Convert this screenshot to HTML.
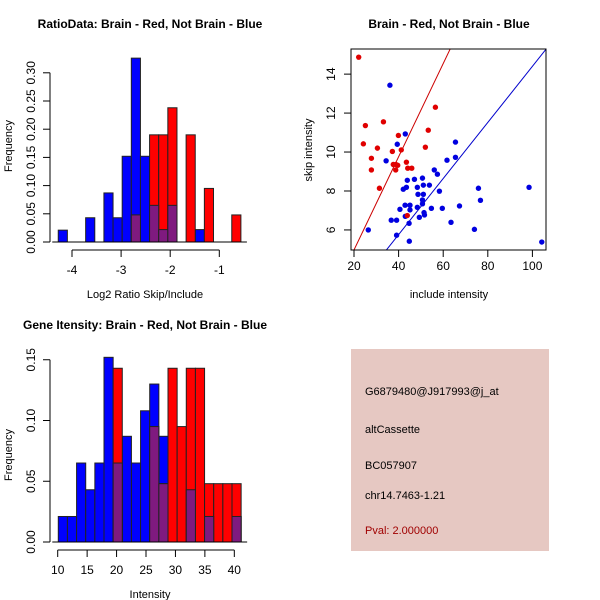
<!DOCTYPE html>
<html><head><meta charset="utf-8"><style>
body{margin:0;background:#fff;}
svg{display:block;font-family:"Liberation Sans",sans-serif;}
</style></head><body>
<svg id="c" width="600" height="600" viewBox="0 0 600 600">
<rect width="600" height="600" fill="#fff"/>
</svg>
<script>
// Histogram 1 (log2 ratio) - bin index -> frequency
const h1BinStart = -4.28, h1BinWidth = 0.186;
const h1BlueIdx = [0,3,5,6,7,8,9,10,11,12,15];
const h1BlueFreq = [0.021,0.043,0.087,0.043,0.152,0.326,0.152,0.065,0.022,0.065,0.022];
const h1RedIdx = [8,10,11,12,14,16,19];
const h1RedFreq = [0.048,0.19,0.19,0.238,0.19,0.095,0.048];
const h1XTicks = [-4,-3,-2,-1];
const h1YTicks = [0,0.05,0.10,0.15,0.20,0.25,0.30];
// Histogram 2 (intensity)
const h2BinStart = 10.1, h2BinWidth = 1.553;
const h2BlueFreq = [0.021,0.021,0.065,0.043,0.065,0.152,0.065,0.087,0.065,0.108,0.130,0.087,0,0,0.043,0,0.021,0,0,0.021];
const h2RedFreq = [0,0,0,0,0,0,0.143,0,0,0,0.095,0.048,0.143,0.095,0.143,0.143,0.048,0.048,0.048,0.048];
const h2XTicks = [10,15,20,25,30,35,40];
const h2YTicks = [0,0.05,0.10,0.15];
// Scatter
const redX = [22.1,25.1,24.2,27.8,27.8,30.5,31.4,33.2,37.2,37.6,38.8,38.7,39.6,39.9,41.2,43.5,44.1,45.9,43.9,52.0,53.3,56.5];
const redY = [14.87,11.36,10.42,9.68,9.08,10.20,8.14,11.55,10.03,9.36,9.36,9.08,9.32,10.85,10.11,9.48,9.17,9.17,6.74,10.25,11.12,12.30];
const blueX = [36.1,26.4,39.4,34.4,43.0,36.7,39.1,39.1,40.6,43.0,42.1,43.5,43.9,42.9,45.1,45.1,44.7,44.8,47.1,48.4,48.7,48.4,49.3,50.7,51.1,51.1,50.7,50.7,51.4,51.6,53.8,54.7,56.0,57.4,58.3,59.6,61.7,63.5,65.5,65.5,67.3,74.0,75.8,76.7,98.5,104.2];
const blueY = [13.43,6.00,10.40,9.55,10.93,6.50,6.50,5.73,7.06,6.70,8.09,8.19,8.55,7.27,7.27,7.03,6.34,5.42,8.60,8.19,7.83,7.16,6.65,8.66,7.83,8.30,7.34,7.54,6.89,6.77,8.30,7.11,9.08,8.86,7.99,7.11,9.58,6.39,10.51,9.73,7.23,6.03,8.14,7.52,8.19,5.38];
const redSlope = 0.2392, redIntercept = 0.19;
const blueSlope = 0.144, blueIntercept = 0;
const scXTicks = [20,40,60,80,100];
const scYTicks = [6,8,10,12,14];

const NS = "http://www.w3.org/2000/svg";
const svg = document.getElementById('c');
function mk(tag, attrs, parent){const e=document.createElementNS(NS,tag);for(const k in attrs)e.setAttribute(k,attrs[k]);(parent||svg).appendChild(e);return e;}
function txt(s, attrs, parent){const e=mk('text',attrs,parent);e.textContent=s;return e;}
const BLUE='#0000ff', RED='#ff0000', PURP='#7f1a7f';

function histogram(o){
  const g=mk('g',{});
  
  
  const xs=v=>o.x0+(v-o.xv0)*o.xk, ys=v=>o.y0-v*o.yk;
  function bar(i,f,col,nm){
    if(f<=0) return;
    const a=o.bs+i*o.bw, b=a+o.bw;
    const r=mk('rect',{x:xs(a),y:ys(f),width:xs(b)-xs(a),height:ys(0)-ys(f),fill:col,stroke:'#222','stroke-width':1},g);
    
    
  }
  const n=o.n, bl=new Array(n).fill(0), rd=new Array(n).fill(0);
  o.bI.forEach((i,k)=>bl[i]=o.bF[k]); o.rI.forEach((i,k)=>rd[i]=o.rF[k]);
  for(let i=0;i<n;i++) bar(i,bl[i],BLUE,'blue-bar');
  for(let i=0;i<n;i++) bar(i,rd[i],RED,'red-bar');
  for(let i=0;i<n;i++) bar(i,Math.min(bl[i],rd[i]),PURP,'overlap-bar');
  mk('line',{x1:xs(o.bs)-6,x2:xs(o.bs+n*o.bw)+6,y1:o.y0,y2:o.y0,stroke:'#000'},g);
  const xa=mk('g',{},g);
   
  mk('line',{x1:xs(o.xt[0]),x2:xs(o.xt[o.xt.length-1]),y1:o.xay,y2:o.xay,stroke:'#000'},xa);
  o.xt.forEach(t=>{mk('line',{x1:xs(t),x2:xs(t),y1:o.xay,y2:o.xay+7,stroke:'#000'},xa);
    const l=txt(String(t),{x:xs(t),y:o.xay+24,'font-size':12,'text-anchor':'middle'},xa);
     });
  const ya=mk('g',{},g);
   
  mk('line',{x1:o.yax,x2:o.yax,y1:ys(o.yt[0]),y2:ys(o.yt[o.yt.length-1]),stroke:'#000'},ya);
  o.yt.forEach(t=>{mk('line',{x1:o.yax,x2:o.yax-7,y1:ys(t),y2:ys(t),stroke:'#000'},ya);
    const lx=o.yax-15;
    const l=txt(t.toFixed(2),{x:lx,y:ys(t),'font-size':12,'text-anchor':'middle',transform:`rotate(-90 ${lx} ${ys(t)})`},ya);
     });
  const xl=txt(o.xlab,{x:o.xlx,y:o.xay+48,'font-size':11,'text-anchor':'middle'},g);
   
  const yl=txt('Frequency',{x:12,y:o.ylc,'font-size':11,'text-anchor':'middle',transform:`rotate(-90 12 ${o.ylc})`},g);
   
  const tt=txt(o.title,{x:o.tx,y:o.ty,'font-size':12,'font-weight':'bold','text-anchor':'middle'},g);
   
}

histogram({name:'ratio-histogram',n:20,bs:h1BinStart,bw:h1BinWidth,bI:h1BlueIdx,bF:h1BlueFreq,rI:h1RedIdx,rF:h1RedFreq,
  x0:72,xv0:-4,xk:49.1,y0:242,yk:564,xt:h1XTicks,yt:h1YTicks,xay:250,yax:50,xlab:'Log2 Ratio Skip/Include',xlx:145,ylc:146,
  title:'RatioData: Brain - Red, Not Brain - Blue',tx:150,ty:28});

const h2Idx=h2BlueFreq.map((_,i)=>i);
histogram({name:'intensity-histogram',n:20,bs:h2BinStart,bw:h2BinWidth,bI:h2Idx,bF:h2BlueFreq,rI:h2Idx,rF:h2RedFreq,
  x0:57.7,xv0:10,xk:5.887,y0:542,yk:1215,xt:h2XTicks,yt:h2YTicks,xay:550,yax:50,xlab:'Intensity',xlx:150,ylc:455,
  title:'Gene Itensity: Brain - Red, Not Brain - Blue',tx:145,ty:329});

(function(){
  const g=mk('g',{});
  
  
  const L=351,R=546,T=49,B=250;
  const xmin=18.65,xmax=106.1,ymin=4.97,ymax=15.29;
  const xs=v=>L+(v-xmin)/(xmax-xmin)*(R-L), ys=v=>B-(v-ymin)/(ymax-ymin)*(B-T);
  const cp=mk('clipPath',{id:'clp'},g);
  mk('rect',{x:L,y:T,width:R-L,height:B-T},cp);
  const inner=mk('g',{'clip-path':'url(#clp)'},g);
  function line(a,b,col,nm){const l=mk('line',{x1:xs(xmin),y1:ys(a+b*xmin),x2:xs(xmax),y2:ys(a+b*xmax),stroke:col,'stroke-width':1},inner);
     }
  line(redIntercept,redSlope,'#cc0000','red-fit-line');
  line(blueIntercept,blueSlope,'#0000cc','blue-fit-line');
  blueX.forEach((x,i)=>{const c=mk('circle',{cx:xs(x),cy:ys(blueY[i]),r:2.7,fill:'#0000e0'},inner);
     });
  redX.forEach((x,i)=>{const c=mk('circle',{cx:xs(x),cy:ys(redY[i]),r:2.7,fill:'#e00000'},inner);
     });
  mk('rect',{x:L,y:T,width:R-L,height:B-T,fill:'none',stroke:'#000'},g);
  scXTicks.forEach(t=>{mk('line',{x1:xs(t),x2:xs(t),y1:B,y2:B+7,stroke:'#000'},g);
    const l=txt(String(t),{x:xs(t),y:B+20,'font-size':12,'text-anchor':'middle'},g);
     });
  scYTicks.forEach(t=>{mk('line',{x1:L,x2:L-7,y1:ys(t),y2:ys(t),stroke:'#000'},g);
    const lx=L-16;
    const l=txt(String(t),{x:lx,y:ys(t),'font-size':12,'text-anchor':'middle',transform:`rotate(-90 ${lx} ${ys(t)})`},g);
     });
  const xl=txt('include intensity',{x:449,y:298,'font-size':11,'text-anchor':'middle'},g);
   
  const yl=txt('skip intensity',{x:312,y:150,'font-size':11,'text-anchor':'middle',transform:'rotate(-90 312 150)'},g);
   
  const tt=txt('Brain - Red, Not Brain - Blue',{x:449,y:28,'font-size':12,'font-weight':'bold','text-anchor':'middle'},g);
   
})();
</script>
<div style="position:absolute;left:351px;top:349px;width:198px;height:202px;background:#e6c8c2;font-family:'Liberation Sans',sans-serif;font-size:11px;color:#000;">
<div style="position:absolute;left:14px;top:37px;">G6879480@J917993@j_at</div>
<div style="position:absolute;left:14px;top:75px;">altCassette</div>
<div style="position:absolute;left:14px;top:111px;">BC057907</div>
<div style="position:absolute;left:14px;top:141px;">chr14.7463-1.21</div>
<div style="position:absolute;left:14px;top:176px;color:#a00000;">Pval: 2.000000</div>
</div>
</body></html>
